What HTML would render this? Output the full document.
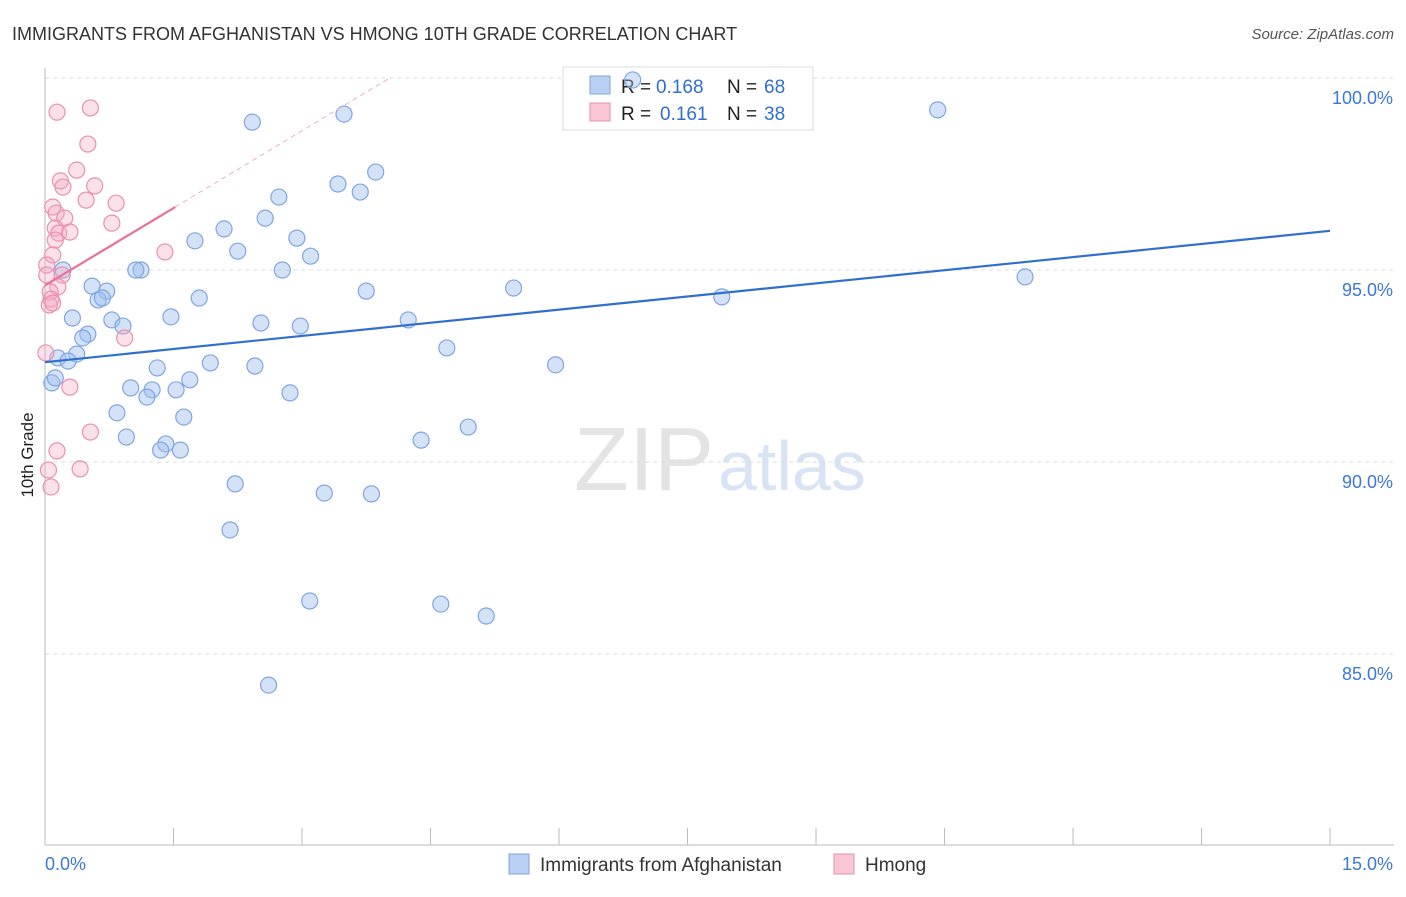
<!DOCTYPE html>
<html><head><meta charset="utf-8"><style>
body{margin:0;background:#fff;font-family:"Liberation Sans",sans-serif;}
svg text{font-family:"Liberation Sans",sans-serif;}
</style></head><body>
<svg id="chart" width="1406" height="892">
<text x="12" y="40" font-size="18" fill="#333">IMMIGRANTS FROM AFGHANISTAN VS HMONG 10TH GRADE CORRELATION CHART</text>
<text x="1394" y="39" font-size="15" fill="#555" font-style="italic" text-anchor="end">Source: ZipAtlas.com</text>
<text x="33" y="455" font-size="17" fill="#222" text-anchor="middle" transform="rotate(-90 33 455)">10th Grade</text>
<text x="714" y="490" font-size="90" fill="#e4e4e4" font-family="Liberation Serif" text-anchor="end">ZIP</text>
<text x="718" y="490" font-size="70" fill="#d8e4f5">atlas</text>
<g id="grid"></g>
<g>
<rect x="563" y="67" width="250" height="63" fill="#fff" stroke="#ddd"/>
<rect x="590" y="76" width="20" height="18" fill="#b9d0f3" stroke="#7fa6e0"/>
<rect x="590" y="103" width="20" height="18" fill="#f9c6d6" stroke="#e890b0"/>
<text x="621" y="93" font-size="19" fill="#222">R =</text>
<text x="656" y="93" font-size="19" fill="#2f6fd0">0.168</text>
<text x="727" y="93" font-size="19" fill="#222">N =</text>
<text x="764" y="93" font-size="19" fill="#2f6fd0">68</text>
<text x="621" y="120" font-size="19" fill="#222">R =</text>
<text x="660" y="120" font-size="19" fill="#2f6fd0">0.161</text>
<text x="727" y="120" font-size="19" fill="#222">N =</text>
<text x="764" y="120" font-size="19" fill="#2f6fd0">38</text>
</g>
<g id="pts"></g><g id="lines"></g>
<g>
<rect x="509" y="854" width="20" height="20" fill="#b9d0f3" stroke="#7fa6e0"/>
<text x="540" y="871" font-size="19" fill="#333">Immigrants from Afghanistan</text>
<rect x="834" y="854" width="20" height="20" fill="#f9c6d6" stroke="#e890b0"/>
<text x="865" y="871" font-size="19" fill="#333">Hmong</text>
</g>
</svg>
<script>
const yTicks=[100,95,90,85];
const xTickCount=10;
const blueX=[6.86,10.42,2.42,3.49,3.86,3.42,3.68,2.73,2.57,2.09,1.75,2.94,2.25,3.10,1.12,1.06,2.77,11.44,5.47,3.75,0.21,0.55,0.72,0.62,0.67,1.80,7.90,0.32,0.78,1.47,0.91,2.52,2.98,4.24,0.50,0.44,4.69,0.37,0.15,0.27,1.93,2.45,5.96,1.31,1.69,1.00,1.25,1.53,1.19,2.86,0.08,0.12,0.84,1.62,4.94,0.95,4.39,1.41,1.35,1.58,2.22,3.26,3.81,2.16,3.09,4.62,5.15,2.61];
const blueY=[99.95,99.17,98.85,99.06,97.55,97.24,97.03,96.90,96.35,96.07,95.76,95.83,95.49,95.36,95.00,95.00,95.00,94.82,94.53,94.45,95.00,94.58,94.45,94.22,94.27,94.27,94.30,93.75,93.70,93.78,93.54,93.62,93.54,93.70,93.33,93.23,92.97,92.81,92.71,92.63,92.58,92.50,92.53,92.45,92.14,91.93,91.88,91.88,91.69,91.80,92.06,92.19,91.28,91.17,90.91,90.65,90.57,90.47,90.31,90.31,89.43,89.19,89.17,88.23,86.38,86.30,85.99,84.19];
const pinkX=[0.14,0.53,0.50,0.37,0.18,0.21,0.58,0.48,0.83,0.09,0.13,0.23,0.78,0.12,0.16,0.29,0.12,0.09,1.40,0.02,0.20,0.02,0.15,0.06,0.07,0.05,0.09,0.93,0.01,0.29,0.53,0.14,0.41,0.04,0.07];
const pinkY=[99.11,99.22,98.28,97.60,97.32,97.16,97.19,96.82,96.74,96.64,96.48,96.35,96.22,96.09,95.96,95.99,95.78,95.39,95.47,95.13,94.87,94.87,94.56,94.43,94.24,94.09,94.14,93.23,92.84,91.95,90.78,90.29,89.82,89.79,89.35];
const blueLine=[92.6,96.02];
const pinkLine=[94.6,96.64,1.52];
const X=v=>45+v*85.67, Y=v=>78+(100-v)*38.4;
const NS="http://www.w3.org/2000/svg";
function mk(p,t,a){const e=document.createElementNS(NS,t);for(const k in a)e.setAttribute(k,a[k]);p.appendChild(e);return e;}
const g=document.getElementById('grid');
yTicks.forEach(t=>{
 const l=mk(g,'line',{x1:45,x2:1394,y1:Y(t),y2:Y(t),stroke:'#ddd','stroke-dasharray':'4,4'});
 
 
 const tx=mk(g,'text',{x:1393,y:Y(t)+26,'font-size':18,fill:'#3b78d8','text-anchor':'end'});tx.textContent=t.toFixed(1)+'%';
 
 
});
mk(g,'line',{x1:45,x2:45,y1:68,y2:845,stroke:'#bbb'});
mk(g,'line',{x1:45,x2:1394,y1:845,y2:845,stroke:'#bbb'});
for(let i=0;i<=xTickCount;i++){const x=X(i*1.5);const l=mk(g,'line',{x1:x,x2:x,y1:828,y2:845,stroke:'#bbb'});
 
 }
let a=mk(g,'text',{x:45,y:870,'font-size':18,fill:'#3b78d8'});a.textContent='0.0%';


a=mk(g,'text',{x:1393,y:870,'font-size':18,fill:'#3b78d8','text-anchor':'end'});a.textContent='15.0%';


const p=document.getElementById('pts');
blueX.forEach((v,i)=>{const c=mk(p,'circle',{cx:X(v),cy:Y(blueY[i]),r:8,fill:'rgba(160,190,240,0.45)',stroke:'#7fa6e0','stroke-width':1.2});
 
 });
pinkX.forEach((v,i)=>{const c=mk(p,'circle',{cx:X(v),cy:Y(pinkY[i]),r:8,fill:'rgba(245,170,195,0.35)',stroke:'#e890b0','stroke-width':1.2});
 
 });
const L=document.getElementById('lines');
let l=mk(L,'line',{x1:X(0),y1:Y(blueLine[0]),x2:X(15),y2:Y(blueLine[1]),stroke:'#2f6fd0','stroke-width':2.2});


const slope=(pinkLine[1]-pinkLine[0])/pinkLine[2];
const xEnd=(100-pinkLine[0])/slope;
l=mk(L,'line',{x1:X(pinkLine[2]),y1:Y(pinkLine[1]),x2:X(xEnd),y2:Y(100),stroke:'#f0b0c4','stroke-width':1,'stroke-dasharray':'5,4'});


l=mk(L,'line',{x1:X(0),y1:Y(pinkLine[0]),x2:X(pinkLine[2]),y2:Y(pinkLine[1]),stroke:'#e8709a','stroke-width':2.2});


</script>
</body></html>
